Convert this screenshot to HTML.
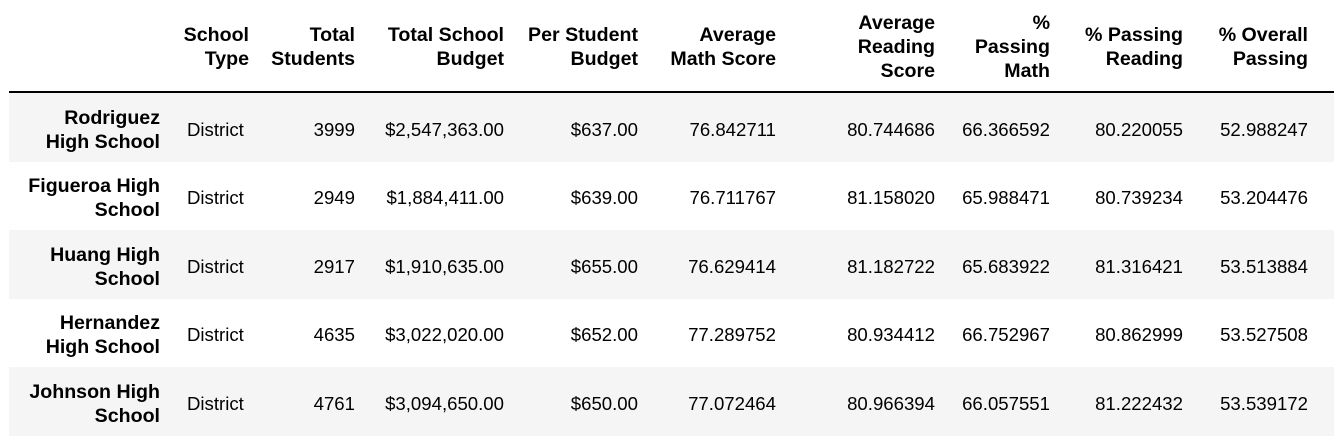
<!DOCTYPE html>
<html><head><meta charset="utf-8"><style>
body{margin:0;width:1334px;height:436px;background:#fff;font-family:"Liberation Sans",Arial,sans-serif;font-size:18.6px;color:#000;position:relative;overflow:hidden}
.c{position:absolute;text-align:right;line-height:24px;white-space:nowrap}
.h{font-weight:bold;font-size:19.6px}
.row{position:absolute;left:9px;width:1325px;height:68.5px}
.g{background:#f5f5f5}
</style></head><body>
<div id="t"></div>
<script>
const cols=["School Type","Total Students","Total School Budget","Per Student Budget","Average Math Score","Average Reading Score","% Passing Math","% Passing Reading","% Overall Passing"];
const hdrLines=[["School","Type"],["Total","Students"],["Total School","Budget"],["Per Student","Budget"],["Average","Math Score"],["Average","Reading","Score"],["%","Passing","Math"],["% Passing","Reading"],["% Overall","Passing"]];
const rights=[249,355,504,638,776,935,1050,1183,1308];
const schools=[["Rodriguez","High School"],["Figueroa High","School"],["Huang High","School"],["Hernandez","High School"],["Johnson High","School"]];
const types=["District","District","District","District","District"];
const students=["3999","2949","2917","4635","4761"];
const budgets=["$2,547,363.00","$1,884,411.00","$1,910,635.00","$3,022,020.00","$3,094,650.00"];
const perStudent=["$637.00","$639.00","$655.00","$652.00","$650.00"];
const mathScore=["76.842711","76.711767","76.629414","77.289752","77.072464"];
const readScore=["80.744686","81.158020","81.182722","80.934412","80.966394"];
const passMath=["66.366592","65.988471","65.683922","66.752967","66.057551"];
const passRead=["80.220055","80.739234","81.316421","80.862999","81.222432"];
const overall=["52.988247","53.204476","53.513884","53.527508","53.539172"];
const data=[types,students,budgets,perStudent,mathScore,readScore,passMath,passRead,overall];
const t=document.getElementById('t');
function cell(txt,right,cy,bold){
  const d=document.createElement('div');
  d.className='c'+(bold?' h':'');
  d.innerHTML=txt.join('<br>');
  d.style.right=(1334-right)+'px';
  d.style.top=(cy-txt.length*12)+'px';
  t.appendChild(d);return d;
}
hdrLines.forEach((l,i)=>{
  const d=cell(l,rights[i],47,true);
  
  
});
const line=document.createElement('div');
line.style.cssText='position:absolute;left:9px;top:91px;width:1325px;height:2px;background:#000';


t.appendChild(line);
schools.forEach((s,r)=>{
  const top=93+r*68.5;
  const rw=document.createElement('div');
  rw.className='row'+(r%2==0?' g':'');
  rw.style.top=top+'px';
  
  
  t.appendChild(rw);
  const cy=top+36.5;
  const n=cell(s,160,cy,true);
  
  
  data.forEach((arr,i)=>{
    const d=cell([arr[r]],rights[i],cy,false);
    if(i==0){d.style.right='';d.style.left='187px';d.style.textAlign='left';}
    
    
  });
});
</script>
</body></html>
